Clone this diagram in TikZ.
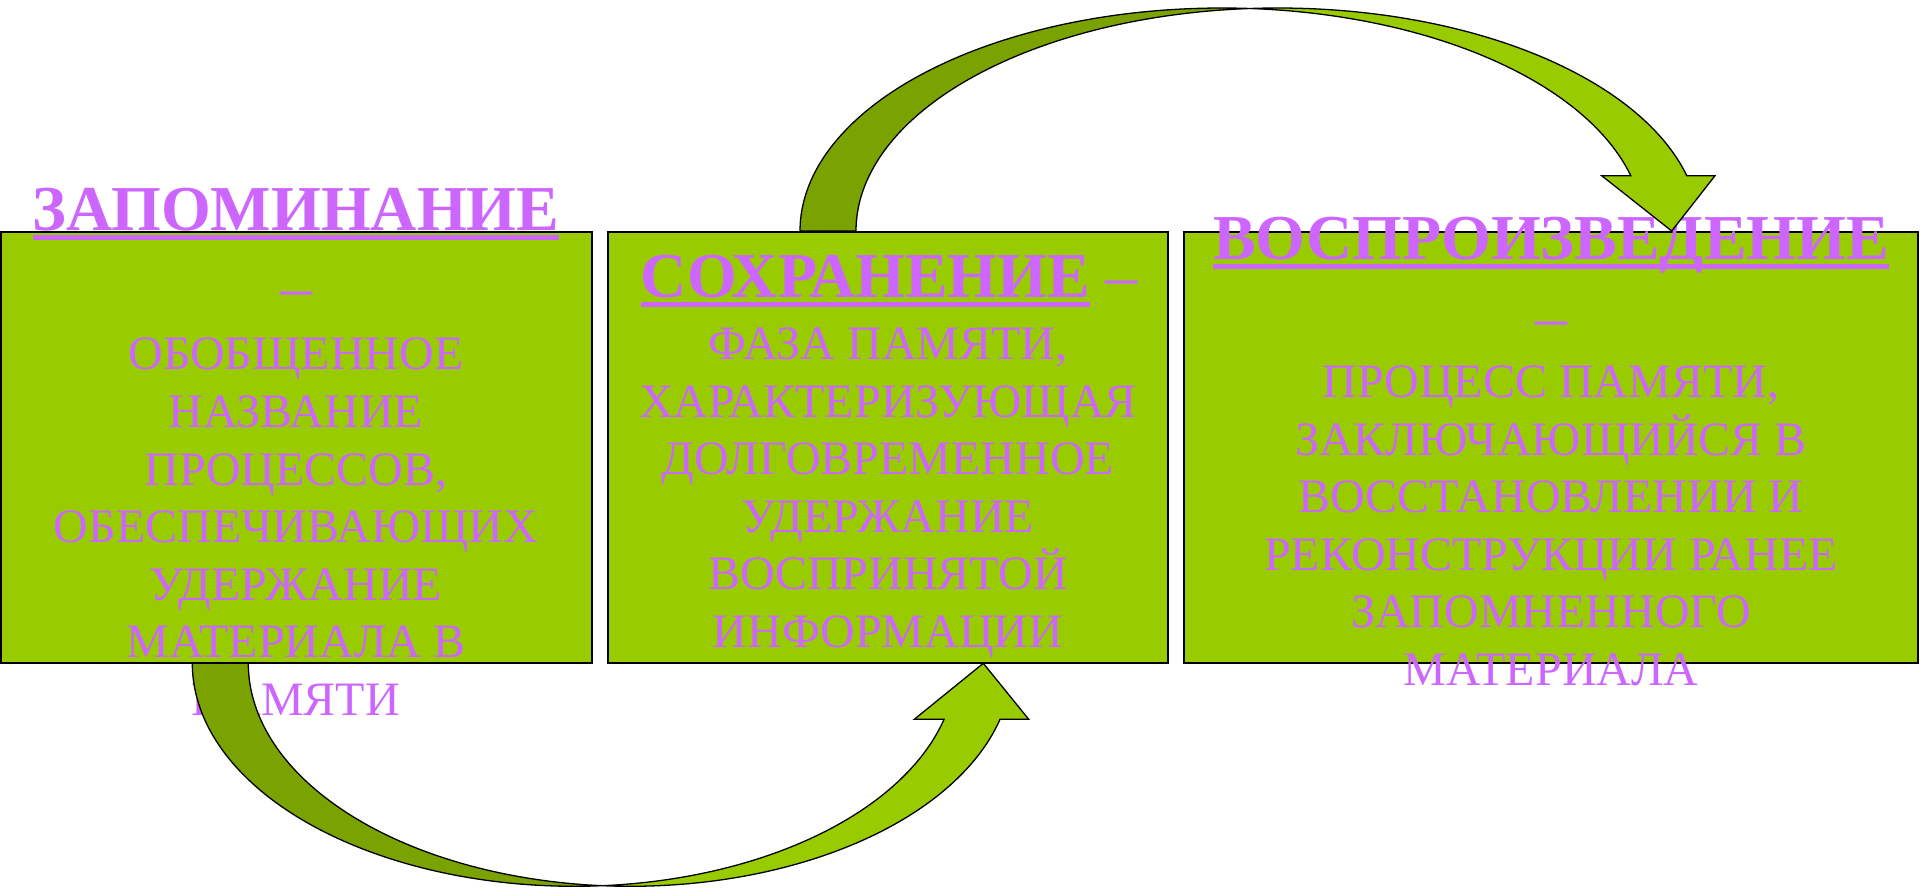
\documentclass[tikz,border=0pt]{standalone}
\usepackage{fontspec}
\setmainfont{Liberation Serif}
\definecolor{boxgreen}{HTML}{99CC00}
\definecolor{backgreen}{HTML}{7AA200}
\definecolor{txtviolet}{HTML}{CC66FF}
\newcommand\headul[1]{\setbox0=\hbox{#1}\rlap{\rule[-9.5pt]{\wd0}{5pt}}\box0}
\begin{document}
\begin{tikzpicture}[x=1pt,y=-1pt,
  box/.style={draw=black, fill=boxgreen, line width=2pt, inner sep=0pt, outer sep=0pt, anchor=north west},
  head/.style={text=txtviolet, inner sep=0pt, anchor=base, font=\fontsize{64}{76.8}\selectfont},
  bodytext/.style={text=txtviolet, inner sep=0pt, anchor=base, align=center, font=\fontsize{48}{57.6}\selectfont},
  backband/.style={fill=backgreen, draw=black, line width=1.3pt, line join=round},
  frontband/.style={fill=boxgreen, draw=black, line width=1.3pt, line join=miter}]
\useasboundingbox (0,0) rectangle (1920,893);
% boxes
\node[box, minimum width=590.7pt, minimum height=431.6pt] (b1) at (1,231.7) {};
\node[box, minimum width=560.1pt, minimum height=431.6pt] (b2) at (607.7,231.7) {};
\node[box, minimum width=734.3pt, minimum height=431.6pt] (b3) at (1184,231.7) {};
% box 1 text (body node anchored at the baseline of its last line)
\node[head] (h1) at (296,231) {\headul{\bfseries ЗАПОМИНАНИЕ}};
\node[head] (d1) at (296,309) {–};
\node[bodytext] (t1) at (296,715.5) {ОБОБЩЕННОЕ\\НАЗВАНИЕ\\ПРОЦЕССОВ,\\ОБЕСПЕЧИВАЮЩИХ\\УДЕРЖАНИЕ\\МАТЕРИАЛА В\\ПАМЯТИ};
% box 2 text
\node[head] (h2) at (889,298) {\headul{\bfseries СОХРАНЕНИЕ}\hspace{15pt}–};
\node[bodytext] (t2) at (888,647.5) {ФАЗА ПАМЯТИ,\\ХАРАКТЕРИЗУЮЩАЯ\\ДОЛГОВРЕМЕННОЕ\\УДЕРЖАНИЕ\\ВОСПРИНЯТОЙ\\ИНФОРМАЦИИ};
% box 3 text
\node[head] (h3) at (1551,260) {\headul{\bfseries ВОСПРОИЗВЕДЕНИЕ}};
\node[head] (d3) at (1551,338) {–};
\node[bodytext] (t3) at (1551,685.5) {ПРОЦЕСС ПАМЯТИ,\\ЗАКЛЮЧАЮЩИЙСЯ В\\ВОССТАНОВЛЕНИИ И\\РЕКОНСТРУКЦИИ РАНЕЕ\\ЗАПОМНЕННОГО\\МАТЕРИАЛА};
% top curved arrow (from box 2 to box 3)
\filldraw[backband]
  plot[domain=180:86.196, samples=90] ({1222+422*cos(\x)},{231-223*sin(\x)})
  -- plot[domain=93.804:180, samples=90] ({1278+422*cos(\x)},{231-223*sin(\x)})
  -- cycle;
\filldraw[frontband]
  plot[domain=93.804:14.36, samples=90] ({1278+422*cos(\x)},{231-223*sin(\x)})
  -- (1715,175.7) -- (1671.7,231) -- (1601.7,175.7)
  -- plot[domain=14.36:86.196, samples=90] ({1222+422*cos(\x)},{231-223*sin(\x)})
  -- cycle;
% bottom curved arrow (from box 1 to box 2)
\filldraw[backband]
  plot[domain=180:85.797, samples=90] ({574.3+382*cos(\x)},{663.3+223*sin(\x)})
  -- plot[domain=94.203:180, samples=90] ({630.3+382*cos(\x)},{663.3+223*sin(\x)})
  -- cycle;
\filldraw[frontband]
  plot[domain=94.203:14.545, samples=90] ({630.3+382*cos(\x)},{663.3+223*sin(\x)})
  -- (1028.7,719.3) -- (983.3,663.3) -- (914.3,719.3)
  -- plot[domain=14.545:85.797, samples=90] ({574.3+382*cos(\x)},{663.3+223*sin(\x)})
  -- cycle;
\end{tikzpicture}
\end{document}
